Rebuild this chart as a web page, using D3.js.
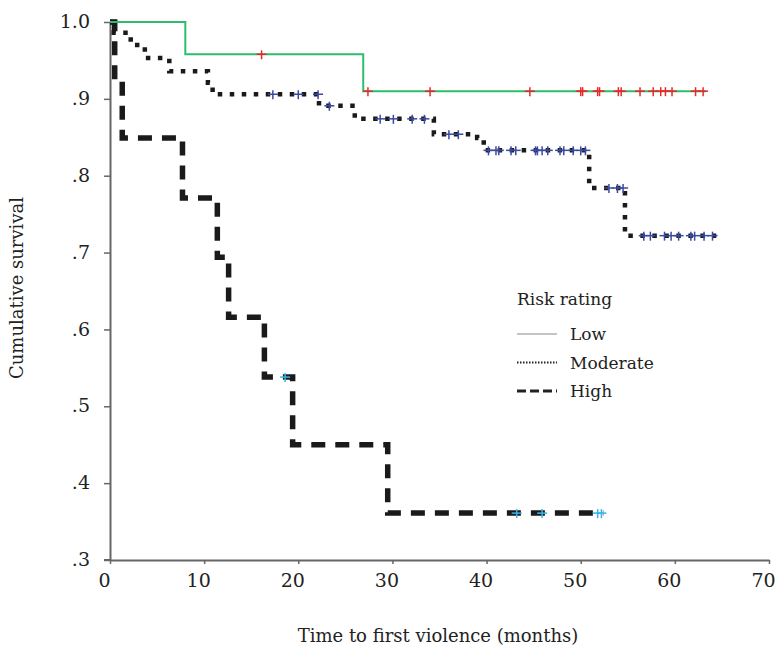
<!DOCTYPE html>
<html>
<head>
<meta charset="utf-8">
<script src="https://cdn.jsdelivr.net/npm/d3@7"></script>
<style>
  body { margin: 0; background: #fff; }
  text { font-family: "DejaVu Serif", "Liberation Serif", serif; fill: #222; }
</style>
</head>
<body>
<div id="chart"></div>
<script>
// Step times (months) and survival after each step, per risk group
let lowTimes = [0, 8.0, 26.9];
let lowSurv = [1.0, 0.958, 0.910];
let lowEnd = 63.3;
let lowCensor = [16.1, 27.4, 34.0, 44.6, 50.0, 50.2, 51.8, 52.0, 54.0, 54.3, 56.3, 57.7, 58.5, 59.0, 59.7, 62.2, 63.0];

let modTimes = [0, 0.4, 2.2, 3.7, 6.3, 10.4, 10.9, 22.2, 26.0, 34.4, 39.0, 39.7, 50.9, 54.7];
let modSurv = [1.0, 0.986, 0.970, 0.953, 0.936, 0.921, 0.906, 0.891, 0.874, 0.854, 0.849, 0.833, 0.784, 0.722];
let modEnd = 64.4;
let modCensor = [17.3, 20.0, 22.1, 23.3, 28.7, 30.1, 32.1, 33.4, 36.0, 37.0, 40.2, 41.0, 41.3, 42.6, 43.1,
                 45.2, 45.4, 45.9, 46.5, 47.8, 48.2, 49.2, 50.0, 50.5, 53.0, 53.9, 54.5,
                 56.7, 57.4, 58.9, 59.6, 60.4, 61.7, 62.1, 63.1, 64.0];

let highTimes = [0, 0.5, 1.3, 7.7, 11.4, 12.6, 16.4, 19.4, 29.5];
let highSurv = [1.0, 0.925, 0.849, 0.771, 0.694, 0.616, 0.538, 0.450, 0.361];
let highEnd = 52.4;
let highCensor = [18.6, 43.2, 45.9, 51.8, 52.2];

let xTicks = [0, 10, 20, 30, 40, 50, 60, 70];
let yTicks = [0.3, 0.4, 0.5, 0.6, 0.7, 0.8, 0.9, 1.0];
let legendLabels = ["Low", "Moderate", "High"];

let width = 775, height = 656;
let svg = d3.select("#chart").append("svg")
    .attr("width", width)
    .attr("height", height);

let x = d3.scaleLinear().domain([0, 70]).range([110, 769]);
let y = d3.scaleLinear().domain([0.3, 1.0]).range([560, 22]);

// Axes
let xAxis = svg.append("g")
    .attr("transform", "translate(0,560)")
    .call(d3.axisBottom(x).tickValues(xTicks).tickSize(4).tickSizeOuter(0).tickFormat(d3.format("d")));
let yAxis = svg.append("g")
    .attr("transform", "translate(110,0)")
    .call(d3.axisLeft(y).tickValues(yTicks).tickSize(6).tickSizeOuter(0)
        .tickFormat(d => d === 1 ? "1.0" : d3.format(".1f")(d).replace(/^0/, "")));

[xAxis, yAxis].forEach(a => {
    a.select(".domain").attr("stroke", "#666").attr("stroke-width", 2);
    a.selectAll(".tick line").attr("stroke", "#666").attr("stroke-width", 1.5);
    a.selectAll(".tick text").attr("font-size", 19).attr("fill", "#222")
        .style("font-family", '"DejaVu Serif", serif');
});
xAxis.selectAll(".tick text").attr("dx", -6).attr("dy", "1.05em");
yAxis.selectAll(".tick text").attr("x", -20).attr("dy", "0.3em");
// extend x axis line left to meet the .3 tick
xAxis.append("line").attr("x1", 104).attr("x2", 110).attr("stroke", "#666").attr("stroke-width", 2);

// Axis titles
svg.append("text")
    .attr("x", 438).attr("y", 642)
    .attr("text-anchor", "middle")
    .attr("font-size", 18)
    .text("Time to first violence (months)");
svg.append("text")
    .attr("transform", "translate(23,288) rotate(-90)")
    .attr("text-anchor", "middle")
    .attr("font-size", 18)
    .text("Cumulative survival");

function stepPoints(times, surv, end) {
    let pts = times.map((t, i) => [t, surv[i]]);
    pts.push([end, surv[surv.length - 1]]);
    return pts;
}
function survAt(times, surv, t) {
    let s = surv[0];
    for (let i = 0; i < times.length; i++) {
        if (times[i] <= t) s = surv[i];
    }
    return s;
}

let line = d3.line()
    .x(d => x(d[0]))
    .y(d => y(d[1]))
    .curve(d3.curveStepAfter);

let groups = [
    {times: highTimes, surv: highSurv, end: highEnd, censor: highCensor,
     stroke: "#1a1a1a", width: 5.5, dash: "14,10", mark: "#3ab4e6"},
    {times: modTimes, surv: modSurv, end: modEnd, censor: modCensor,
     stroke: "#1a1a1a", width: 4.5, dash: "4.5,7.5", mark: "#3a4aa0"},
    {times: lowTimes, surv: lowSurv, end: lowEnd, censor: lowCensor,
     stroke: "#2dbd6e", width: 2, dash: null, mark: "#e8282b"}
];

groups.forEach(g => {
    svg.append("path")
        .datum(stepPoints(g.times, g.surv, g.end))
        .attr("d", line)
        .attr("fill", "none")
        .attr("stroke", g.stroke)
        .attr("stroke-width", g.width)
        .attr("stroke-dasharray", g.dash);

    let marks = svg.append("g").selectAll("g")
        .data(g.censor)
        .enter().append("g")
        .attr("transform", d => "translate(" + x(d) + "," + y(survAt(g.times, g.surv, d)) + ")");
    marks.append("line")
        .attr("x1", -5).attr("x2", 5)
        .attr("stroke", g.mark).attr("stroke-width", 1.5);
    marks.append("line")
        .attr("y1", -4).attr("y2", 5)
        .attr("stroke", g.mark).attr("stroke-width", 1.5);
});

// Legend
let legend = svg.append("g");
legend.append("text")
    .attr("x", 517).attr("y", 305)
    .attr("font-size", 17)
    .text("Risk rating");
let legendStyles = [
    {stroke: "#888", width: 1, dash: null},
    {stroke: "#222", width: 2, dash: "1.5,1.5"},
    {stroke: "#222", width: 3, dash: "9,4"}
];
legendLabels.forEach((lab, i) => {
    let ly = 334 + i * 28.5;
    legend.append("line")
        .attr("x1", 517).attr("x2", 557)
        .attr("y1", ly).attr("y2", ly)
        .attr("stroke", legendStyles[i].stroke)
        .attr("stroke-width", legendStyles[i].width)
        .attr("stroke-dasharray", legendStyles[i].dash);
    legend.append("text")
        .attr("x", 570).attr("y", ly + 6)
        .attr("font-size", 17)
        .text(lab);
});
</script>
</body>
</html>
